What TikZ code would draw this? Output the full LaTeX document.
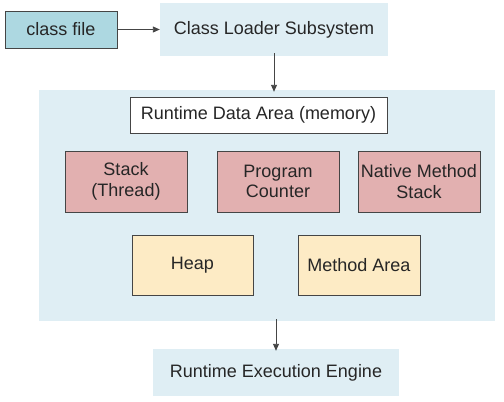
\documentclass[tikz,border=0pt]{standalone}
\usepackage{fontspec}
\setmainfont{Liberation Sans}
\usetikzlibrary{arrows.meta}
\definecolor{pale}{HTML}{DFEEF4}
\definecolor{teal}{HTML}{ADD8E1}
\definecolor{rose}{HTML}{E2B0B0}
\definecolor{cream}{HTML}{FDEBC5}
\definecolor{edge}{HTML}{454545}
\begin{document}
\begin{tikzpicture}[x=1pt,y=-1pt,
  txt/.style={font=\fontsize{18}{20.5}\selectfont, text=black!85, align=center, inner sep=0pt},
  plain/.style={txt, fill=pale, draw=none},
  framed/.style={txt, draw=edge, line width=1pt},
  conn/.style={draw=edge, line width=0.9pt, -{Triangle[length=7pt,width=6pt]}}]
\useasboundingbox (0,0) rectangle (504,402);
\node[framed, fill=teal, minimum width=112pt, minimum height=37pt] (cf) at (61,29.5) {class file};
\node[plain, minimum width=228pt, minimum height=53pt] (cl) at (274,29.5) {Class Loader Subsystem};
\node[plain, minimum width=456pt, minimum height=231pt] (big) at (267,205.5) {};
\node[framed, fill=white, minimum width=257pt, minimum height=36pt] (rda) at (258.5,115) {Runtime Data Area (memory)};
\node[framed, fill=rose, minimum width=122pt, minimum height=61pt] (st) at (126,181.5) {Stack\\(Thread)};
\node[framed, fill=rose, minimum width=122pt, minimum height=61pt] (pc) at (278,181.5) {Program\\Counter};
\node[framed, fill=rose, minimum width=122pt, minimum height=61pt] (nms) at (419,181.5) {Native Method\\Stack};
\node[framed, fill=cream, minimum width=121pt, minimum height=60pt] (heap) at (192.5,265) {Heap};
\node[framed, fill=cream, minimum width=122pt, minimum height=60pt] (ma) at (359,265) {Method Area};
\node[plain, minimum width=246pt, minimum height=47pt] (ree) at (276,372.5) {Runtime Execution Engine};
\draw[conn] (cf.east) -- (cl.west);
\draw[conn] ([yshift=3pt]cl.south) -- ([yshift=-2pt]big.north -| cl.south);
\draw[conn] ([yshift=2pt]big.south -| ree.north) -- ([yshift=-2pt]ree.north);
\end{tikzpicture}
\end{document}
